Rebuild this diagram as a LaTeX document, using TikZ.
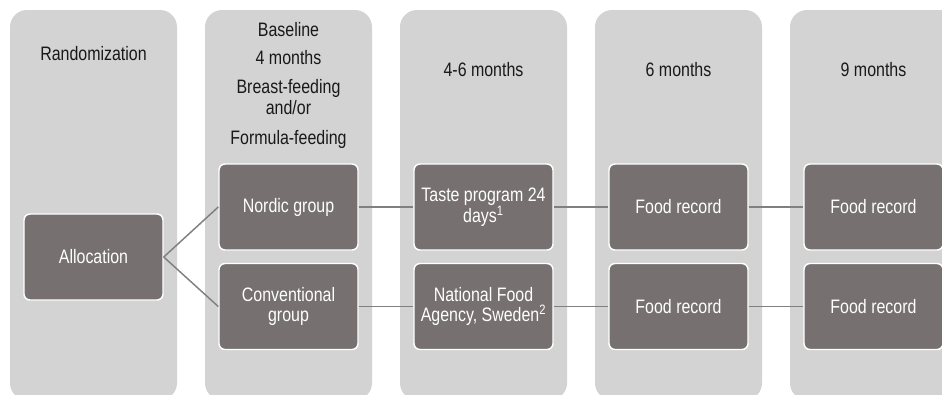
\documentclass[tikz,border=0pt]{standalone}
\usepackage{fontspec}
\setmainfont{Liberation Sans}[FakeStretch=0.82]
\definecolor{panel}{RGB}{211,211,211}
\definecolor{boxgray}{RGB}{118,112,112}
\definecolor{linkgray}{RGB}{128,128,128}
\begin{document}
\begin{tikzpicture}[x=0.75pt,y=-0.75pt,
font=\fontsize{14.6}{15.4}\selectfont,
stage/.style ={rectangle, fill=panel, rounded corners=12.75pt,
  minimum width=125.25pt, minimum height=292.5pt, inner sep=0pt
},
event/.style ={rectangle, draw=white, line width=1.1pt, fill=boxgray,
  text=white, align=center, rounded corners=4.5pt,
  minimum width=104.25pt, minimum height=64.5pt, inner sep=0pt
},
head/.style ={align=center, text=black!90},
link/.style ={draw=linkgray, line width=1.1pt}]
\useasboundingbox (0,0) rectangle (942,394);
\clip (0,0) rectangle (942,394);
% time columns
\node (col1) at (93.5,205) [stage] {};
\node (col2) at (288.5,205) [stage] {};
\node (col3) at (483.5,205) [stage] {};
\node (col4) at (678.5,205) [stage] {};
\node (col5) at (873.5,205) [stage] {};
% column headings
\node (h1) at (93.5,54) [head] {Randomization};
\node (h2a) at (288.5,30) [head] {Baseline};
\node (h2b) at (288.5,58) [head] {4 months};
\node (h2c) at (288.5,97) [head] {Breast-feeding\\and/or};
\node (h2d) at (288.5,139) [head] {Formula-feeding};
\node (h3) at (483.5,70) [head] {4-6 months};
\node (h4) at (678.5,70) [head] {6 months};
\node (h5) at (873.5,70) [head] {9 months};
% boxes
\node (alloc) at (93.5,257) [event] {Allocation};
\node (nordic) at (288.5,207) [event] {Nordic group};
\node (conv) at (288.5,306.5) [event] {Conventional\\group};
\node (taste) at (483.5,207) [event] {Taste program 24\\days\textsuperscript{1}};
\node (agency) at (483.5,306.5) [event] {National Food\\Agency, Sweden\textsuperscript{2}};
\node (rec6a) at (678.5,207) [event] {Food record};
\node (rec6b) at (678.5,306.5) [event] {Food record};
\node (rec9a) at (873.5,207) [event] {Food record};
\node (rec9b) at (873.5,306.5) [event] {Food record};
% connectors
\draw [link] (alloc.east) -- (nordic.west);
\draw [link] (alloc.east) -- (conv.west);
\draw [link] (nordic.east) -- (taste.west);
\draw [link] (taste.east) -- (rec6a.west);
\draw [link] (rec6a.east) -- (rec9a.west);
\draw [link] (conv.east) -- (agency.west);
\draw [link] (agency.east) -- (rec6b.west);
\draw [link] (rec6b.east) -- (rec9b.west);
\end{tikzpicture}
\end{document}
